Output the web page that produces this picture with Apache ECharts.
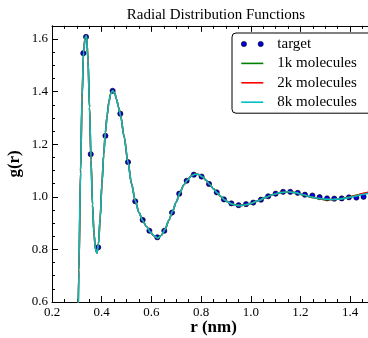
<!DOCTYPE html>
<html><head><meta charset="utf-8">
<script src="https://cdn.jsdelivr.net/npm/echarts@6/dist/echarts.min.js"></script>
<style>html,body{margin:0;padding:0;background:#fff}#c{width:368px;height:338px}</style>
</head><body><div id="c"></div>
<script>
// target points
var targetR = [0.326, 0.337, 0.356, 0.386, 0.415, 0.444, 0.475, 0.506, 0.535, 0.565, 0.592, 0.624, 0.652, 0.683, 0.712, 0.742, 0.771, 0.802, 0.832, 0.863, 0.892, 0.922, 0.951, 0.981, 1.010, 1.041, 1.070, 1.100, 1.130, 1.159, 1.189, 1.218, 1.248, 1.277, 1.307, 1.336, 1.366, 1.395, 1.425, 1.454];
var targetG = [1.546, 1.608, 1.162, 0.808, 1.232, 1.403, 1.316, 1.132, 0.983, 0.912, 0.871, 0.846, 0.871, 0.940, 1.012, 1.061, 1.084, 1.077, 1.049, 1.017, 0.990, 0.975, 0.968, 0.972, 0.978, 0.989, 1.002, 1.012, 1.019, 1.019, 1.015, 1.008, 1.005, 0.999, 0.994, 0.993, 0.994, 0.998, 0.997, 1.000];
// simulated curves
var lineR = [0.28, 0.295, 0.302, 0.308, 0.315, 0.321, 0.327, 0.333, 0.339, 0.345, 0.351, 0.357, 0.363, 0.369, 0.375, 0.381, 0.387, 0.394, 0.401, 0.408, 0.415, 0.422, 0.429, 0.436, 0.444, 0.452, 0.46, 0.468, 0.476, 0.49, 0.506, 0.52, 0.535, 0.55, 0.565, 0.58, 0.595, 0.61, 0.625, 0.64, 0.655, 0.67, 0.685, 0.70, 0.715, 0.73, 0.745, 0.76, 0.775, 0.79, 0.805, 0.82, 0.835, 0.85, 0.865, 0.88, 0.895, 0.91, 0.925, 0.94, 0.955, 0.97, 0.985, 1.00, 1.03, 1.06, 1.09, 1.12, 1.15, 1.18, 1.21, 1.24, 1.27, 1.30, 1.33, 1.36, 1.39, 1.42, 1.45, 1.48, 1.50];
var g1k = [0.0, 0.05, 0.34, 0.71, 1.09, 1.37, 1.55, 1.604, 1.611, 1.52, 1.34, 1.14, 0.97, 0.86, 0.80, 0.787, 0.82, 0.92, 1.05, 1.16, 1.245, 1.31, 1.36, 1.392, 1.403, 1.395, 1.37, 1.34, 1.31, 1.23, 1.13, 1.05, 0.985, 0.94, 0.91, 0.887, 0.867, 0.852, 0.844, 0.854, 0.876, 0.91, 0.945, 0.98, 1.016, 1.045, 1.064, 1.079, 1.086, 1.085, 1.076, 1.063, 1.047, 1.030, 1.015, 1.001, 0.988, 0.979, 0.972, 0.968, 0.967, 0.968, 0.971, 0.975, 0.985, 0.998, 1.009, 1.016, 1.019, 1.016, 1.007, 0.999, 0.993, 0.989, 0.989, 0.992, 0.998, 1.005, 1.011, 1.017, 1.020];
var g2k = [0.0, 0.05, 0.35, 0.72, 1.10, 1.38, 1.55, 1.605, 1.612, 1.52, 1.34, 1.14, 0.97, 0.86, 0.80, 0.786, 0.82, 0.92, 1.05, 1.16, 1.245, 1.31, 1.36, 1.392, 1.403, 1.395, 1.37, 1.34, 1.31, 1.23, 1.13, 1.05, 0.985, 0.94, 0.91, 0.887, 0.867, 0.852, 0.843, 0.853, 0.876, 0.91, 0.945, 0.98, 1.016, 1.045, 1.064, 1.079, 1.086, 1.085, 1.076, 1.063, 1.047, 1.030, 1.015, 1.001, 0.988, 0.979, 0.972, 0.968, 0.967, 0.968, 0.971, 0.975, 0.985, 0.998, 1.009, 1.016, 1.019, 1.016, 1.008, 1.000, 0.994, 0.990, 0.990, 0.992, 0.997, 1.004, 1.012, 1.018, 1.021];
var g8k = [0.0, 0.05, 0.35, 0.72, 1.10, 1.38, 1.55, 1.605, 1.612, 1.52, 1.34, 1.14, 0.97, 0.86, 0.80, 0.786, 0.82, 0.92, 1.05, 1.16, 1.245, 1.31, 1.36, 1.392, 1.403, 1.395, 1.37, 1.34, 1.31, 1.23, 1.13, 1.05, 0.985, 0.94, 0.91, 0.887, 0.867, 0.852, 0.843, 0.853, 0.876, 0.91, 0.945, 0.98, 1.016, 1.045, 1.064, 1.079, 1.086, 1.085, 1.076, 1.063, 1.047, 1.030, 1.015, 1.001, 0.988, 0.979, 0.972, 0.968, 0.967, 0.968, 0.971, 0.975, 0.985, 0.998, 1.009, 1.016, 1.019, 1.016, 1.008, 1.000, 0.994, 0.991, 0.990, 0.992, 0.996, 1.002, 1.009, 1.014, 1.017];
var seriesNames = ['target', '1k molecules', '2k molecules', '8k molecules'];
var xTicks = {min: 0.2, max: 1.5, interval: 0.2};
var yTicks = {min: 0.6, max: 1.65, interval: 0.2};

function pairs(xs, ys) { return xs.map(function (x, i) { return [x, ys[i]]; }); }

var serif = 'Liberation Serif';
var chart = echarts.init(document.getElementById('c'), null, {renderer: 'canvas'});
var axisCommon = {
  axisLine: {show: true, lineStyle: {color: '#000', width: 1}},
  axisTick: {show: true, inside: true, length: 6, lineStyle: {color: '#000', width: 1}},
  minorTick: {show: true, splitNumber: 4, length: 3, lineStyle: {color: '#000', width: 1}},
  splitLine: {show: false},
  minorSplitLine: {show: false}
};
function lineSeries(name, ys, color) {
  return {
    name: name, type: 'line', data: pairs(lineR, ys), symbol: 'none', showSymbol: false,
    smooth: 0.3, smoothMonotone: 'x', lineStyle: {color: color, width: 1.6}, itemStyle: {color: color},
    z: 3, animation: false, clip: true
  };
}
var lineIcon = 'path://M0,0h22v1.6h-22z';
chart.setOption({
  animation: false,
  title: {text: 'Radial Distribution Functions', left: 211, top: 3, textAlign: 'center',
    textStyle: {fontFamily: serif, fontSize: 15, fontWeight: 'normal', color: '#000'}},
  grid: {left: 52, top: 25.85, bottom: 36, right: -7, containLabel: false, outerBoundsMode: 'none'},
  legend: {
    orient: 'vertical', left: 232, top: 33,
    padding: [3, 27, 3, 9], itemGap: 3.4, itemWidth: 22, itemHeight: 5.2, symbolKeepAspect: true,
    backgroundColor: '#fff', borderColor: '#000', borderWidth: 1, borderRadius: 4,
    textStyle: {fontFamily: serif, fontSize: 15, color: '#000', lineHeight: 16, padding: [0, 0, 0, 9]},
    data: [
      {name: seriesNames[0], icon: 'path://M0,2.6a2.6,2.6 0 1,0 5.2,0a2.6,2.6 0 1,0 -5.2,0M16.8,2.6a2.6,2.6 0 1,0 5.2,0a2.6,2.6 0 1,0 -5.2,0',
        itemStyle: {color: '#0000e0', borderColor: '#000', borderWidth: 0.6}},
      {name: seriesNames[1], icon: lineIcon, itemStyle: {color: '#008000', borderWidth: 0}},
      {name: seriesNames[2], icon: lineIcon, itemStyle: {color: '#ff0000', borderWidth: 0}},
      {name: seriesNames[3], icon: lineIcon, itemStyle: {color: '#00bfbf', borderWidth: 0}}
    ]
  },
  xAxis: [
    Object.assign({type: 'value', position: 'bottom', min: xTicks.min, max: xTicks.max, interval: xTicks.interval,
      name: 'r (nm)', nameLocation: 'middle', nameGap: 17, nameMoveOverlap: false,
      nameTextStyle: {fontFamily: serif, fontSize: 17, fontWeight: 'bold', color: '#000'},
      axisLabel: {show: true, margin: 4, showMaxLabel: false, fontFamily: serif, fontSize: 13, color: '#000',
        formatter: function (v) { return v.toFixed(1); }}}, axisCommon),
    Object.assign({type: 'value', position: 'top', min: xTicks.min, max: xTicks.max, interval: xTicks.interval,
      axisLabel: {show: false}}, axisCommon)
  ],
  yAxis: [
    Object.assign({type: 'value', position: 'left', min: yTicks.min, max: yTicks.max, interval: yTicks.interval,
      name: 'g(r)', nameLocation: 'middle', nameGap: 29, nameRotate: 90, nameMoveOverlap: false,
      nameTextStyle: {fontFamily: serif, fontSize: 17, fontWeight: 'bold', color: '#000'},
      axisLabel: {show: true, margin: 4, showMaxLabel: false, fontFamily: serif, fontSize: 13, color: '#000',
        formatter: function (v) { return v.toFixed(1); }}}, axisCommon),
    Object.assign({type: 'value', position: 'right', min: yTicks.min, max: yTicks.max, interval: yTicks.interval,
      axisLabel: {show: false}}, axisCommon)
  ],
  series: [
    {name: seriesNames[0], type: 'scatter', data: pairs(targetR, targetG), symbol: 'circle', symbolSize: 5.2,
      itemStyle: {color: '#0000e0', borderColor: '#000', borderWidth: 0.6, opacity: 1}, z: 2},
    lineSeries(seriesNames[1], g1k, '#008000'),
    lineSeries(seriesNames[2], g2k, '#ff0000'),
    lineSeries(seriesNames[3], g8k, '#00bfbf')
  ]
});
</script></body></html>
